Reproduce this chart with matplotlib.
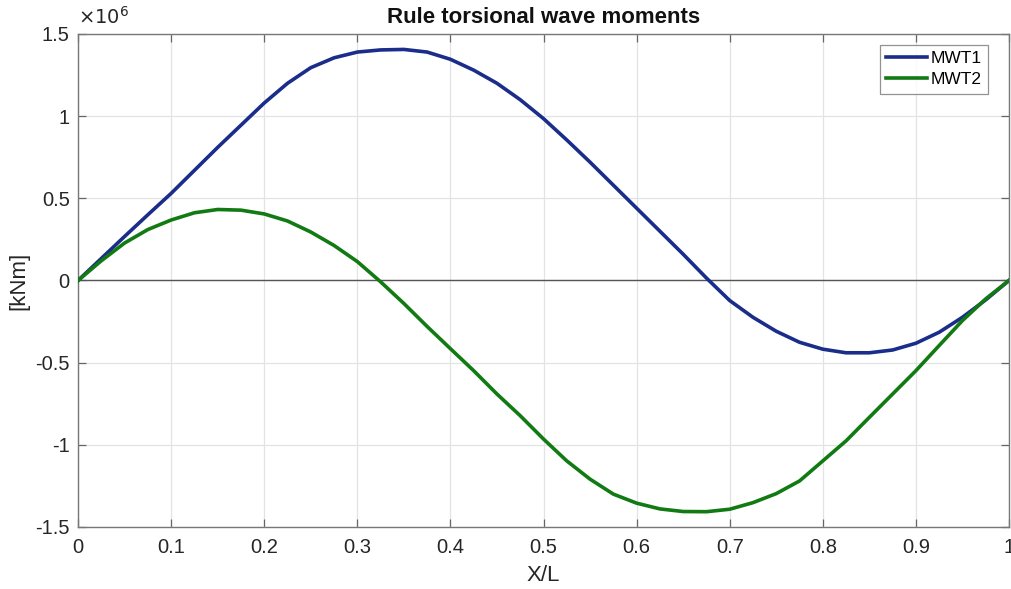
import matplotlib
matplotlib.use("Agg")
import matplotlib.pyplot as plt
from matplotlib.ticker import FuncFormatter, MultipleLocator

# Position along the hull, X/L
x_over_l = [0.0, 0.025, 0.05, 0.075, 0.1, 0.125, 0.15, 0.175, 0.2, 0.225,
            0.25, 0.275, 0.3, 0.325, 0.35, 0.375, 0.4, 0.425, 0.45, 0.475,
            0.5, 0.525, 0.55, 0.575, 0.6, 0.625, 0.65, 0.675, 0.7, 0.725,
            0.75, 0.775, 0.8, 0.825, 0.85, 0.875, 0.9, 0.925, 0.95, 0.975, 1.0]

# Torsional wave moments in kNm
mwt1 = [0.0, 0.134e6, 0.268e6, 0.40e6, 0.53e6, 0.67e6, 0.81e6, 0.945e6, 1.08e6, 1.20e6,
        1.295e6, 1.355e6, 1.39e6, 1.403e6, 1.406e6, 1.39e6, 1.346e6, 1.28e6, 1.20e6, 1.10e6,
        0.985e6, 0.855e6, 0.72e6, 0.58e6, 0.44e6, 0.30e6, 0.16e6, 0.015e6, -0.122e6, -0.224e6,
        -0.309e6, -0.376e6, -0.418e6, -0.44e6, -0.44e6, -0.423e6, -0.382e6, -0.315e6, -0.224e6, -0.118e6, 0.0]

mwt2 = [0.0, 0.12e6, 0.228e6, 0.31e6, 0.368e6, 0.412e6, 0.432e6, 0.428e6, 0.405e6, 0.362e6,
        0.295e6, 0.213e6, 0.115e6, -0.008e6, -0.14e6, -0.28e6, -0.415e6, -0.549e6, -0.691e6, -0.823e6,
        -0.965e6, -1.098e6, -1.209e6, -1.30e6, -1.355e6, -1.39e6, -1.406e6, -1.407e6, -1.392e6, -1.352e6,
        -1.297e6, -1.22e6, -1.098e6, -0.976e6, -0.833e6, -0.691e6, -0.549e6, -0.396e6, -0.244e6, -0.112e6, 0.0]

series_names = ["MWT1", "MWT2"]
series_colors = ["#1b2d8a", "#127a12"]

plt.rcParams['font.family'] = ['Liberation Sans', 'DejaVu Sans']

fig = plt.figure(figsize=(10.11, 5.89), dpi=100)
ax = fig.add_axes([0.0772, 0.1053, 0.9208, 0.837])

ax.plot(x_over_l, mwt1, color=series_colors[0], lw=2.6, label=series_names[0], zorder=3)
ax.plot(x_over_l, mwt2, color=series_colors[1], lw=2.6, label=series_names[1], zorder=3)
ax.axhline(0, color="#555555", lw=1.0, zorder=2)

ax.set_xlim(0, 1)
ax.set_ylim(-1.5e6, 1.5e6)
ax.xaxis.set_major_locator(MultipleLocator(0.1))
ax.yaxis.set_major_locator(MultipleLocator(0.5e6))
ax.xaxis.set_major_formatter(FuncFormatter(lambda v, p: f"{v:g}"))
ax.yaxis.set_major_formatter(FuncFormatter(lambda v, p: f"{v / 1e6:g}"))

ax.grid(True, color="#e3e3e3", lw=0.9)
ax.set_axisbelow(True)
ax.tick_params(direction="in", top=True, right=True, length=6, width=0.9,
               color="#666666", labelsize=14.5, labelcolor="#262626")
ax.tick_params(axis="x", pad=8)
ax.tick_params(axis="y", pad=6)
for s in ax.spines.values():
    s.set_color("#777777")
    s.set_linewidth(1.0)

ax.set_title("Rule torsional wave moments", fontsize=16, fontweight="bold",
             color="#111111", pad=8)
ax.set_xlabel("X/L", fontsize=16, color="#262626", labelpad=6)
ax.set_ylabel("[kNm]", fontsize=16, color="#262626", labelpad=4)
ax.text(0.0, 1.012, r"$\times10^{6}$", transform=ax.transAxes, fontsize=14,
        color="#262626", ha="left", va="bottom")

leg = ax.legend(loc="upper right", bbox_to_anchor=(0.9774, 0.9777), borderaxespad=0,
                fontsize=12.5, frameon=True, fancybox=False,
                edgecolor="#777777", handlelength=2.4, handletextpad=0.2,
                borderpad=0.35, labelspacing=0.35)
leg.get_frame().set_linewidth(0.9)

fig.savefig("out.png", dpi=100)
